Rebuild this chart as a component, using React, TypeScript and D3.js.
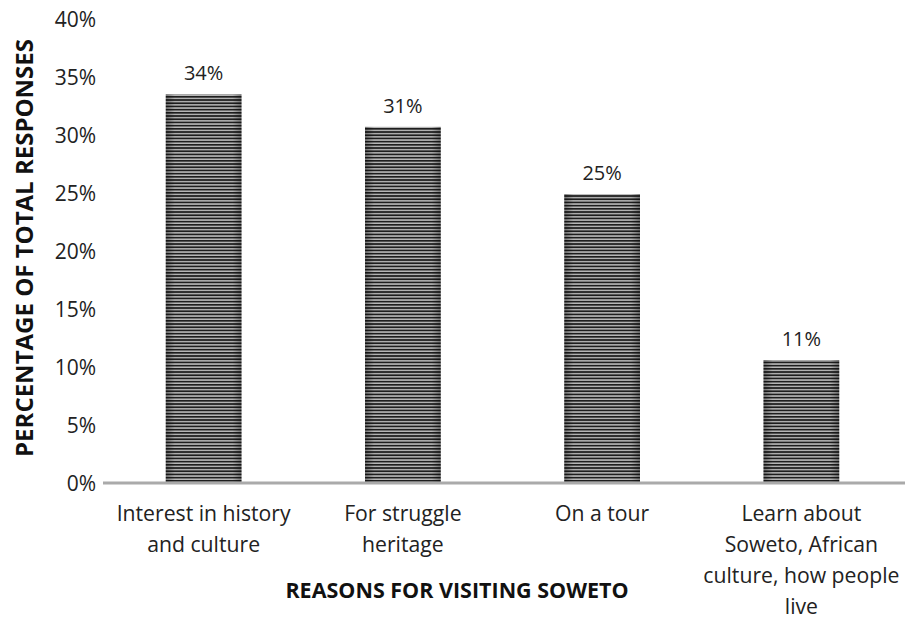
import React from "react";
import * as d3 from "d3";

const categories: string[][] = [
  ["Interest in history", "and culture"],
  ["For struggle", "heritage"],
  ["On a tour"],
  ["Learn about", "Soweto, African", "culture, how people", "live"],
];
const values: number[] = [33.5, 30.7, 24.9, 10.6];
const valueLabels: string[] = ["34%", "31%", "25%", "11%"];
const yTicks: number[] = [0, 5, 10, 15, 20, 25, 30, 35, 40];
const yTitle = "PERCENTAGE OF TOTAL RESPONSES";
const xTitle = "REASONS FOR VISITING SOWETO";

export default function App() {
  const W = 913, H = 624;
  const font = "'Open Sans', sans-serif";
  const x = d3.scaleBand<number>().domain(d3.range(values.length)).range([104, 901]).paddingInner(0.62).paddingOuter(0.31);
  const y = d3.scaleLinear().domain([0, 40]).range([483, 19]);
  return (
    <svg width={W} height={H} style={{ position: "absolute", left: 0, top: 0, background: "#fff" }}>
      <defs>
        <pattern id="stripes" patternUnits="userSpaceOnUse" width={10} height={3.2}>
          <rect x={0} y={0} width={10} height={3.2} fill="#b8b8b8" />
          <rect x={0} y={0} width={10} height={1.7} fill="#1e1e1e" />
        </pattern>
        <linearGradient id="shade" x1="0" x2="1" y1="0" y2="0">
          <stop offset="0" stopColor="#000" stopOpacity={0.35} />
          <stop offset="0.12" stopColor="#000" stopOpacity={0} />
          <stop offset="0.88" stopColor="#000" stopOpacity={0} />
          <stop offset="1" stopColor="#000" stopOpacity={0.35} />
        </linearGradient>
      </defs>
      {yTicks.map((t) => (
        <text key={t} x={96} y={y(t)} dy="0.36em" textAnchor="end" fontFamily={font} fontSize={21} fill="#222">
          {t + "%"}
        </text>
      ))}
      {values.map((v, i) => (
        <g key={i}>
          <rect x={x(i)} y={y(v)} width={x.bandwidth()} height={y(0) - y(v)} fill="url(#stripes)" />
          <rect x={x(i)} y={y(v)} width={x.bandwidth()} height={y(0) - y(v)} fill="url(#shade)" />
          <text x={(x(i) as number) + x.bandwidth() / 2} y={y(v) - 14} textAnchor="middle" fontFamily={font} fontSize={20} fill="#222">
            {valueLabels[i]}
          </text>
          {categories[i].map((line, j) => (
            <text key={j} x={(x(i) as number) + x.bandwidth() / 2} y={521 + j * 31} textAnchor="middle" fontFamily={font} fontSize={21.2} fill="#222">
              {line}
            </text>
          ))}
        </g>
      ))}
      <line x1={103} x2={905} y1={y(0)} y2={y(0)} stroke="#aaa" strokeWidth={3} />
      <text transform={`translate(33,248) rotate(-90)`} textAnchor="middle" fontFamily={font} fontWeight={700} fontSize={24} fill="#111">
        {yTitle}
      </text>
      <text x={457} y={598} textAnchor="middle" fontFamily={font} fontWeight={700} fontSize={21.5} fill="#111">
        {xTitle}
      </text>
    </svg>
  );
}
